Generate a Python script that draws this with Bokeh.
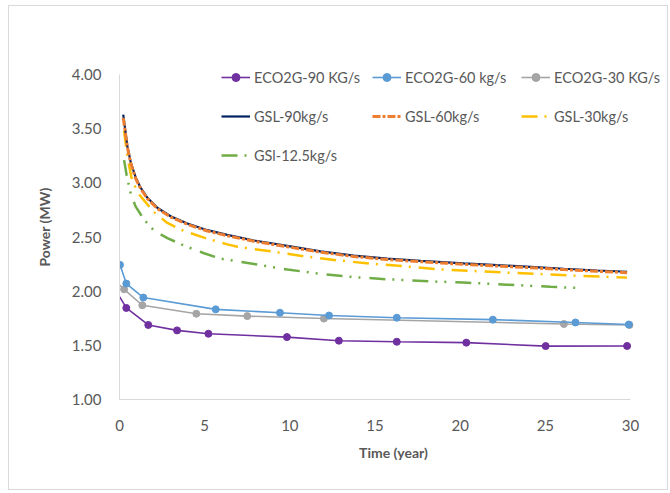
from bokeh.plotting import figure
from bokeh.models import Legend, LegendItem, FixedTicker, NumeralTickFormatter, Range1d
from bokeh.embed import file_html
from bokeh.resources import INLINE

# ---- data ----
eco90_t = [0.0, 0.40, 1.69, 3.38, 5.22, 9.83, 12.88, 16.28, 20.36, 25.02, 29.8]
eco90_v = [1.95, 1.845, 1.688, 1.638, 1.607, 1.576, 1.543, 1.533, 1.525, 1.493, 1.494]

eco60_t = [0.03, 0.40, 1.40, 5.65, 9.42, 12.3, 16.28, 21.92, 26.77, 29.9]
eco60_v = [2.243, 2.07, 1.941, 1.832, 1.801, 1.775, 1.755, 1.737, 1.711, 1.692]

eco30_t = [0.0, 0.27, 1.34, 4.51, 7.5, 12.0, 26.09, 29.94]
eco30_v = [2.057, 2.017, 1.87, 1.792, 1.77, 1.747, 1.697, 1.688]

gsl_t = [0.22, 0.46, 0.66, 0.95, 1.24, 1.64, 2.22, 3.0, 3.98, 5.16, 6.33, 7.9,
         9.85, 11.8, 13.76, 15.72, 17.68, 20.2, 22.18, 24.13, 26.09, 28.05, 29.8]
gsl90_v = [3.63, 3.34, 3.19, 3.05, 2.955, 2.862, 2.770, 2.692, 2.625, 2.563, 2.520, 2.468,
           2.418, 2.368, 2.328, 2.300, 2.280, 2.256, 2.240, 2.225, 2.207, 2.191, 2.179]
gsl60_v = [3.60, 3.33, 3.18, 3.04, 2.946, 2.854, 2.762, 2.684, 2.617, 2.555, 2.512, 2.46,
           2.41, 2.36, 2.32, 2.292, 2.272, 2.248, 2.232, 2.217, 2.199, 2.183, 2.171]

gsl30_t = [0.27, 0.46, 0.7, 1.05, 1.44, 2.02, 2.81, 3.79, 4.96, 6.33, 6.92, 8.87,
           10.83, 12.79, 14.74, 16.7, 18.66, 20.8, 22.76, 24.72, 26.67, 28.83, 29.8]
gsl30_v = [3.48, 3.24, 3.05, 2.915, 2.838, 2.73, 2.63, 2.555, 2.494, 2.432, 2.41, 2.368,
           2.322, 2.285, 2.254, 2.23, 2.203, 2.186, 2.171, 2.158, 2.144, 2.131, 2.125]

gsl12_t = [0.27, 0.42, 0.66, 0.95, 1.44, 2.02, 2.81, 3.79, 4.96, 5.94, 7.9, 9.85,
           11.8, 13.76, 15.72, 18.26, 20.2, 22.76, 25.3, 26.87]
gsl12_v = [3.21, 3.07, 2.90, 2.78, 2.66, 2.56, 2.49, 2.42, 2.35, 2.30, 2.25, 2.20,
           2.16, 2.13, 2.11, 2.09, 2.08, 2.06, 2.04, 2.03]

x_ticks = [0, 5, 10, 15, 20, 25, 30]
y_ticks = [1.0, 1.5, 2.0, 2.5, 3.0, 3.5, 4.0]

FONT = "Lato"
GREY = "#595959"

# frame: 548 px wide (30 units = 511 px), 345 px tall (3 units = 325 px)
X_END = 548 / (511 / 30)
Y_END = 1 + 345 / (325 / 3)

p = figure(width=660, height=485, output_backend="svg", toolbar_location=None,
           x_range=Range1d(0, X_END), y_range=Range1d(1, Y_END),
           min_border_left=110, min_border_right=2, min_border_top=48, min_border_bottom=92)
p.styles = {"border": "1px solid #D9D9D9", "margin-left": "8px", "margin-top": "5px"}
p.outline_line_color = None
p.xgrid.grid_line_color = None
p.ygrid.grid_line_color = None

for ax in (p.xaxis[0], p.yaxis[0]):
    ax.axis_line_color = "#D9D9D9"
    ax.major_tick_line_color = None
    ax.minor_tick_line_color = None
    ax.major_label_text_font = FONT
    ax.major_label_text_font_size = "15px"
    ax.major_label_text_color = GREY
    ax.axis_label_text_font = FONT
    ax.axis_label_text_font_size = "14px"
    ax.axis_label_text_font_style = "bold"
    ax.axis_label_text_color = GREY

p.xaxis.bounds = (0, 30)
p.yaxis.bounds = (1, 4)
p.xaxis.ticker = FixedTicker(ticks=x_ticks)
p.yaxis.ticker = FixedTicker(ticks=y_ticks)
p.yaxis.formatter = NumeralTickFormatter(format="0.00")
p.xaxis.axis_label = "Time (year)"
p.yaxis.axis_label = "Power (MW)"
p.xaxis.major_label_standoff = 14
p.xaxis.axis_label_standoff = 10
p.yaxis.major_label_standoff = 12
p.yaxis.axis_label_standoff = 16

# GSL curves
r12 = p.line(gsl12_t, gsl12_v, line_color="#70AD47", line_width=2.5, line_dash="16 7 2 7 2 9")
r30 = p.line(gsl30_t, gsl30_v, line_color="#FFC000", line_width=2.5, line_dash="16 7 2 8")
r90 = p.line(gsl_t, gsl90_v, line_color="#002060", line_width=2.2)
r60 = p.line(gsl_t, gsl60_v, line_color="#ED7D31", line_width=3, line_dash="8 2 3 2")

# ECO2G curves
l30 = p.line(eco30_t, eco30_v, line_color="#A5A5A5", line_width=1.6)
m30 = p.scatter(eco30_t[1:], eco30_v[1:], size=7, color="#A5A5A5")
l60 = p.line(eco60_t, eco60_v, line_color="#5B9BD5", line_width=1.6)
m60 = p.scatter(eco60_t, eco60_v, size=7, color="#5B9BD5")
l90 = p.line(eco90_t, eco90_v, line_color="#7030A0", line_width=1.6)
m90 = p.scatter(eco90_t[1:], eco90_v[1:], size=7, color="#7030A0")


def make_legend(items, loc):
    lg = Legend(items=items, location=loc, orientation="vertical",
                padding=0, margin=0, spacing=19, glyph_width=29, glyph_height=20,
                label_height=20, label_standoff=4,
                label_text_font=FONT, label_text_font_size="14.5px", label_text_color=GREY,
                border_line_color=None, background_fill_alpha=0)
    p.add_layout(lg, "center")


make_legend([LegendItem(label="ECO2G-90 KG/s", renderers=[l90, m90]),
             LegendItem(label="GSL-90kg/s", renderers=[r90]),
             LegendItem(label="GSl-12.5kg/s", renderers=[r12])], (102, 234))
make_legend([LegendItem(label="ECO2G-60 kg/s", renderers=[l60, m60]),
             LegendItem(label="GSL-60kg/s", renderers=[r60])], (253, 273))
make_legend([LegendItem(label="ECO2G-30 KG/s", renderers=[l30, m30]),
             LegendItem(label="GSL-30kg/s", renderers=[r30])], (402, 273))

open("out.html", "w").write(file_html(p, INLINE))
